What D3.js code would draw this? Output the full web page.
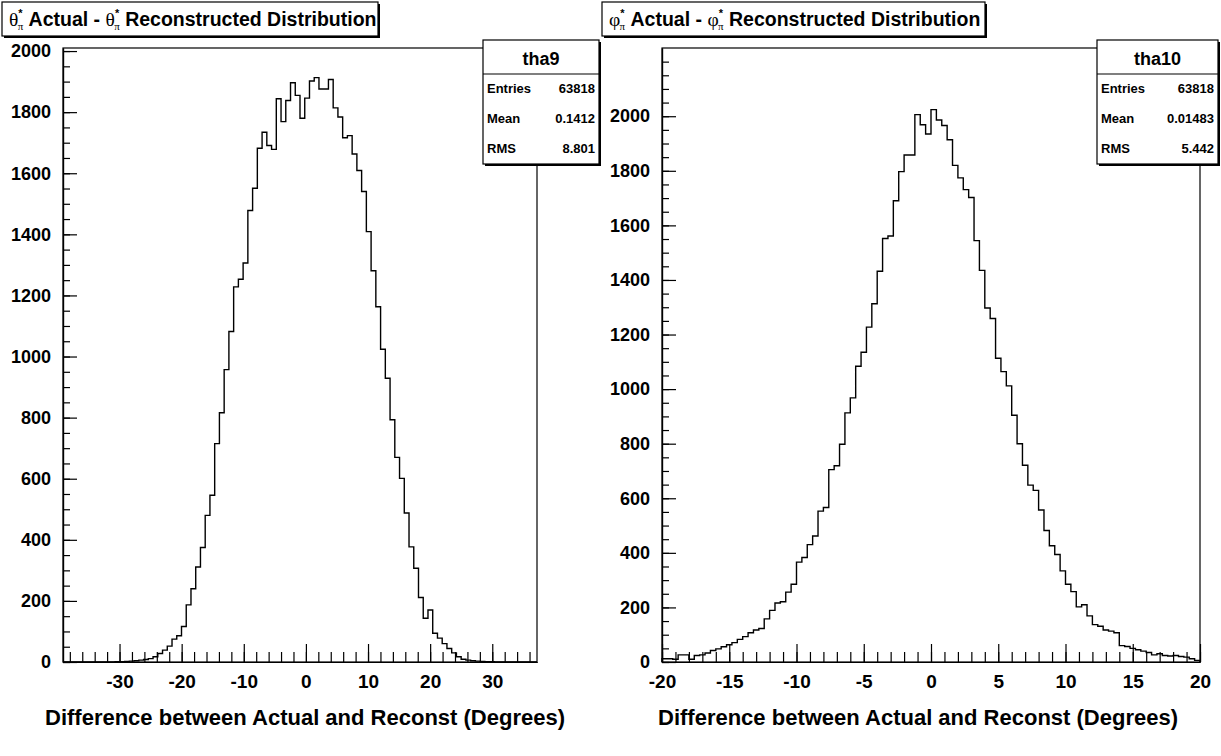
<!DOCTYPE html>
<html>
<head>
<meta charset="utf-8">
<script src="https://d3js.org/d3.v7.min.js"></script>
<style>
body { margin: 0; background: #fff; }
text { font-family: "Liberation Sans", Arial, Helvetica, sans-serif; font-weight: bold; fill: #000; }
</style>
</head>
<body>
<script>

// theta*_pi : actual - reconstructed, 100 bins
var thetaRange = [-39.1, 37.2]
var thetaYMax = 2010
var thetaCounts = [
	0, 0, 0, 0, 0, 0, 0, 0, 0, 0,
	0, 1, 1, 2, 3, 4, 6, 8, 11, 17,
	28, 39, 52, 75, 86, 116, 187, 240, 311, 375,
	480, 546, 715, 816, 957, 1082, 1228, 1253, 1306, 1478,
	1551, 1682, 1734, 1691, 1678, 1844, 1769, 1838, 1896, 1855,
	1780, 1846, 1902, 1913, 1876, 1876, 1907, 1814, 1784, 1716,
	1723, 1663, 1609, 1540, 1409, 1281, 1163, 1024, 929, 793,
	670, 601, 488, 377, 307, 211, 143, 170, 94, 78,
	60, 44, 30, 17, 9, 6, 4, 3, 2, 1,
	1, 0, 0, 0, 0, 0, 0, 0, 0, 0]
var thetaTicks = [-30, -20, -10, 0, 10, 20, 30]
var thetaStats = [["Entries", "63818"], ["Mean", "0.1412"], ["RMS", "8.801"]]

// phi*_pi : actual - reconstructed, 100 bins
var phiRange = [-20, 20]
var phiYMax = 2250
var phiCounts = [
	12, 12, 10, 26, 26, 10, 24, 26, 33, 42,
	48, 56, 63, 71, 83, 93, 107, 117, 123, 158,
	189, 216, 221, 256, 285, 366, 383, 430, 462, 553,
	566, 705, 719, 798, 913, 968, 1084, 1135, 1227, 1313,
	1432, 1552, 1561, 1690, 1797, 1858, 1858, 2006, 1969, 1935,
	2024, 1986, 1966, 1914, 1820, 1774, 1731, 1702, 1544, 1435,
	1297, 1259, 1113, 1064, 1012, 904, 800, 721, 648, 629,
	557, 482, 426, 394, 334, 285, 258, 202, 210, 169,
	137, 131, 117, 113, 107, 60, 57, 50, 45, 40,
	35, 26, 30, 24, 22, 24, 20, 18, 12, 6]
var phiTicks = [-20, -15, -10, -5, 0, 5, 10, 15, 20]
var phiStats = [["Entries", "63818"], ["Mean", "0.01483"], ["RMS", "5.442"]]

var countTicks = [0, 200, 400, 600, 800, 1000, 1200, 1400, 1600, 1800, 2000]
var xTitle = "Difference between Actual and Reconst (Degrees)"

var svg = d3.select("body").append("svg")
	.attr("width", 1221)
	.attr("height", 756)

// plain hyphen minus, like the original
var plain = function(d) { return String(d) }

function shadowBox(g, x, y, w, h) {
	g.append("rect").attr("x", x + 2).attr("y", y + 2).attr("width", w).attr("height", h).attr("fill", "#000")
	g.append("rect").attr("x", x).attr("y", y).attr("width", w).attr("height", h)
		.attr("fill", "#fff").attr("stroke", "#000").attr("stroke-width", 1.2)
}

function drawPanel(p) {
	var g = svg.append("g")

	var x = d3.scaleLinear().domain(p.range).range([p.left, p.right])
	var y = d3.scaleLinear().domain([0, p.yMax]).range([p.bottom, p.top])
	var edge = d3.scaleLinear().domain([0, p.counts.length]).range(p.range)

	// frame
	g.append("rect")
		.attr("x", p.left).attr("y", p.top)
		.attr("width", p.right - p.left).attr("height", p.bottom - p.top)
		.attr("fill", "none").attr("stroke", "#000").attr("stroke-width", 1.2)

	// minor ticks
	var minorX = d3.range(Math.ceil(p.range[0] / p.minor) * p.minor, p.range[1] + 1e-6, p.minor)
	g.append("g").attr("transform", "translate(0," + p.bottom + ")")
		.call(d3.axisBottom(x).tickValues(minorX).tickSize(-10).tickSizeOuter(0).tickFormat(""))
	var minorY = d3.range(0, p.yMax, 50)
	g.append("g").attr("transform", "translate(" + p.left + ",0)")
		.call(d3.axisLeft(y).tickValues(minorY).tickSize(-7).tickSizeOuter(0).tickFormat(""))

	// major ticks + labels
	var xAxis = g.append("g").attr("transform", "translate(0," + p.bottom + ")")
		.call(d3.axisBottom(x).tickValues(p.ticks).tickSize(-18).tickSizeOuter(0).tickPadding(13)
			.tickFormat(plain))
	var yAxis = g.append("g").attr("transform", "translate(" + p.left + ",0)")
		.call(d3.axisLeft(y).tickValues(countTicks).tickSize(-14).tickSizeOuter(0).tickPadding(12)
			.tickFormat(plain))

	g.selectAll(".tick line, .domain").attr("stroke", "#000").attr("stroke-width", 1.2)
	yAxis.selectAll(".tick text").attr("font-size", 18)
		.attr("font-family", "Liberation Sans").attr("font-weight", "bold")
	xAxis.selectAll(".tick text").attr("font-size", 19)
		.attr("font-family", "Liberation Sans").attr("font-weight", "bold")

	// histogram outline
	var pts = [[edge(0), 0]]
	p.counts.forEach(function(c, i) { pts.push([edge(i), c]) })
	pts.push([edge(p.counts.length), p.counts[p.counts.length - 1]])
	pts.push([edge(p.counts.length), 0])

	var line = d3.line()
		.x(function(d) { return x(d[0]) })
		.y(function(d) { return y(d[1]) })
		.curve(d3.curveStepAfter)

	g.append("path")
		.attr("d", line(pts))
		.attr("fill", "none")
		.attr("stroke", "#000")
		.attr("stroke-width", 1.4)

	// x axis title
	g.append("text")
		.attr("x", p.titleMid)
		.attr("y", 725)
		.attr("text-anchor", "middle")
		.attr("font-size", 22)
		.text(xTitle)

	// title box
	shadowBox(g, p.titleX, 2, p.titleW, 34)
	var t = g.append("text").attr("x", p.titleX + 7).attr("y", 26).attr("font-size", 19.5)
	var sym = function() {
		t.append("tspan").attr("font-family", "Liberation Serif").attr("font-weight", "normal").text(p.symbol)
		t.append("tspan").attr("font-size", 11).attr("dy", -9).text("*")
		t.append("tspan").attr("font-family", "Liberation Serif").attr("font-weight", "normal")
			.attr("font-size", 11).attr("dx", -5).attr("dy", 13).text("π")
	}
	sym()
	t.append("tspan").attr("dy", -4).text(" Actual - ")
	sym()
	t.append("tspan").attr("dy", -4).text(" Reconstructed Distribution")

	// stats box
	var sb = p.statBox
	shadowBox(g, sb[0], 40, sb[1] - sb[0], 124)
	g.append("line").attr("x1", sb[0]).attr("x2", sb[1]).attr("y1", 74).attr("y2", 74)
		.attr("stroke", "#000").attr("stroke-width", 1.2)
	g.append("text").attr("x", (sb[0] + sb[1]) / 2).attr("y", 65)
		.attr("text-anchor", "middle").attr("font-size", 18).text(p.name)

	var rows = g.selectAll(".statrow")
		.data(p.stats)
		.enter()
		.append("g")
		.attr("class", "statrow")
		.attr("transform", function(d, i) { return "translate(0," + (93 + i * 30) + ")" })
	rows.append("text").attr("x", sb[0] + 4).attr("font-size", 13).text(function(d) { return d[0] })
	rows.append("text").attr("x", sb[1] - 4).attr("text-anchor", "end").attr("font-size", 13).text(function(d) { return d[1] })
}

drawPanel({
	range: thetaRange, counts: thetaCounts, ticks: thetaTicks, minor: 2, yMax: thetaYMax,
	left: 63, right: 537, top: 48, bottom: 662,
	symbol: "θ", titleX: 2, titleW: 376, titleMid: 305,
	name: "tha9", stats: thetaStats, statBox: [483, 599]
})

drawPanel({
	range: phiRange, counts: phiCounts, ticks: phiTicks, minor: 1, yMax: phiYMax,
	left: 662, right: 1200, top: 48, bottom: 662,
	symbol: "φ", titleX: 602, titleW: 383, titleMid: 918,
	name: "tha10", stats: phiStats, statBox: [1097, 1218]
})

</script>
</body>
</html>
